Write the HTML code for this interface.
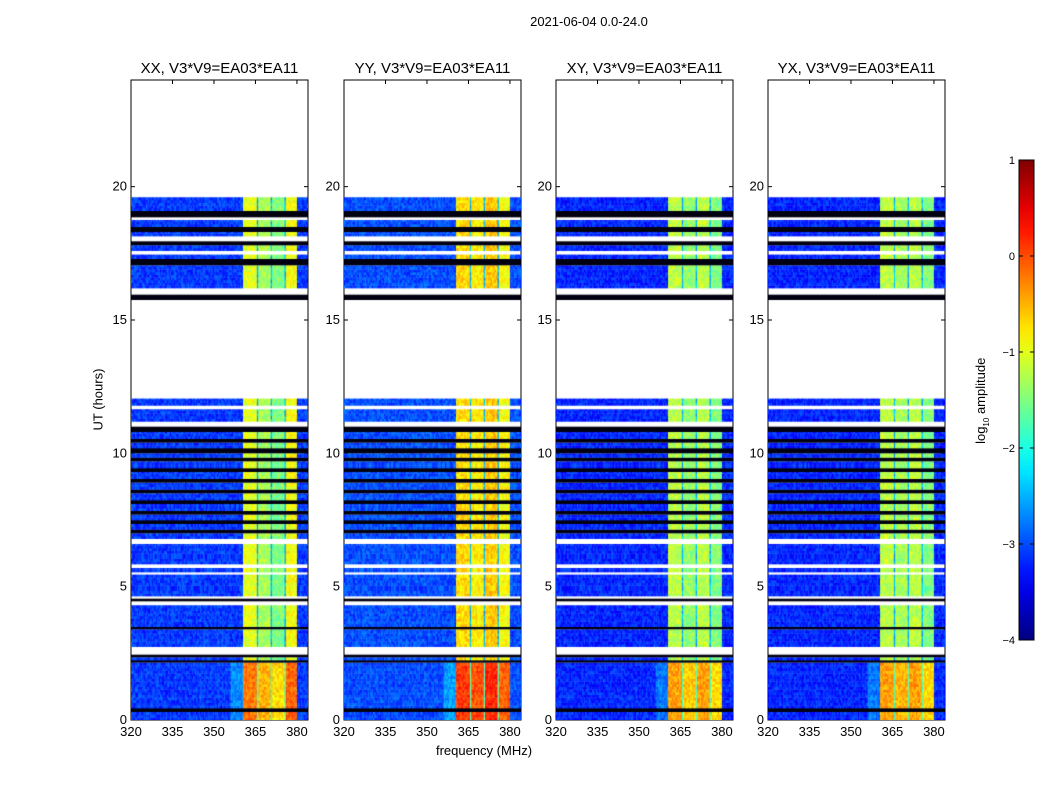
<!DOCTYPE html>
<html><head><meta charset="utf-8">
<style>
body{margin:0;background:#fff;font-family:"Liberation Sans",sans-serif;}
#root{position:relative;width:1050px;height:800px;overflow:hidden;background:#fff;}
.t{position:absolute;white-space:nowrap;color:#000;}
canvas{position:absolute;}
</style></head><body>
<div id="root">
<div class="t" style="left:489px;top:14px;width:200px;text-align:center;font-size:13px;">2021-06-04 0.0-24.0</div>
<div class="t" style="left:48px;top:392px;width:100px;text-align:center;font-size:13px;transform:rotate(-90deg);">UT (hours)</div>
<div class="t" style="left:384px;top:743px;width:200px;text-align:center;font-size:13px;">frequency (MHz)</div>
<div class="t" style="left:922px;top:392px;width:120px;text-align:center;font-size:13px;transform:rotate(-90deg);">log<sub style="font-size:8px">10</sub> amplitude</div>
<svg id="svg" width="1050" height="800" style="position:absolute;left:0;top:0;"></svg>
</div>
<script>
// ---- data ----
const panelTitles = ["XX, V3*V9=EA03*EA11","YY, V3*V9=EA03*EA11","XY, V3*V9=EA03*EA11","YX, V3*V9=EA03*EA11"];
const xTicks = [320,335,350,365,380];
const yTicks = [0,5,10,15,20];
const cbTicks = [-4,-3,-2,-1,0,1];
const bandStart = 360.5, bandEnd = 380;
const dipChannels = [365.5,370.5,375.5];
const subbandXX = [-1.0,-1.3,-1.5,-0.9];
const subbandYY = [-0.7,-0.8,-0.6,-0.9];
const subbandXY = [-1.2,-1.4,-1.2,-1.5];
const subbandYX = [-1.2,-1.3,-1.2,-1.5];
const lowLevel = [-3.1,-3.0,-3.2,-3.2];
const segStart = [0.0,0.3,0.45,0.55,2.15,2.25,2.35,2.45,2.6,2.75,3.4,3.5,4.3,4.45,4.55,4.65,4.75,5.45,5.55,5.7,5.85,5.95,6.6,6.8,7.0,7.15,7.35,7.5,7.7,7.85,8.1,8.25,8.5,8.65,8.9,9.05,9.3,9.45,9.7,9.85,10.0,10.2,10.4,10.55,10.8,11.0,11.2,11.65,11.8,12.05,15.75,15.95,16.2,16.9,17.05,17.3,17.45,17.6,17.8,17.95,18.15,18.3,18.5,18.75,18.85,19.1,19.6];
const segEnd   = [0.3,0.45,0.55,2.15,2.25,2.35,2.45,2.6,2.75,3.4,3.5,4.3,4.45,4.55,4.65,4.75,5.45,5.55,5.7,5.85,5.95,6.6,6.8,7.0,7.15,7.35,7.5,7.7,7.85,8.1,8.25,8.5,8.65,8.9,9.05,9.3,9.45,9.7,9.85,10.0,10.2,10.4,10.55,10.8,11.0,11.2,11.65,11.8,12.05,15.75,15.95,16.2,16.9,17.05,17.3,17.45,17.6,17.8,17.95,18.15,18.3,18.5,18.75,18.85,19.1,19.6,24.0];
const segType  = ["h","k","h","h","k","n","k","w","w","n","k","n","w","k","w","n","n","w","n","w","n","n","w","n","k","n","k","n","k","n","k","n","k","n","k","n","k","n","k","n","k","n","k","n","k","w","n","w","n","w","k","w","n","n","k","n","w","n","k","w","n","k","n","w","k","n","w"];

const panelX = [131,344,556,768], PW=177, PT=80, PH=640;
const xs = f => (f-320)/(384-320)*PW;
const ys = t => PH - t/24*PH;
function jet(v){
  const c=x=>Math.max(0,Math.min(1,x));
  const r=c(1.5-Math.abs(4*v-3)), g=c(1.5-Math.abs(4*v-2)), b=c(1.5-Math.abs(4*v-1));
  return `rgb(${r*255|0},${g*255|0},${b*255|0})`;
}
const norm = v => (v+4)/5;
function tex(i,j,p){let h=(i*374761393+j*668265263+p*2147483647)|0;h=(h^(h>>>13))*1274126177;h=h^(h>>>16);return ((h>>>0)%1000)/1000-0.5;}
const svg=document.getElementById('svg'), root=document.getElementById('root');
const NS='http://www.w3.org/2000/svg';
function mk(tag,attrs,parent){const e=document.createElementNS(NS,tag);for(const k in attrs)e.setAttribute(k,attrs[k]);(parent||svg).appendChild(e);return e;}
const subs=[subbandXX,subbandYY,subbandXY,subbandYX];
function bandVal(p,f){
  if(f<bandStart||f>=bandEnd) return null;
  if(dipChannels.some(d=>f>=d&&f<d+0.5)) return -2.5;
  const k=Math.min(3,Math.floor((f-bandStart)/((bandEnd-bandStart)/4)));
  return subs[p][k];
}
for(let p=0;p<4;p++){
  const cv=document.createElement('canvas');
  cv.width=PW;cv.height=PH;cv.style.left=panelX[p]+'px';cv.style.top=PT+'px';
  
  
  root.appendChild(cv);
  const ctx=cv.getContext('2d');
  const dt=0.1, df=0.5;
  for(let s=0;s<segStart.length;s++){
    const ty=segType[s];
    if(ty==='w') continue;
    const y0=ys(segEnd[s]), y1=ys(segStart[s]);
    if(ty==='k'){ctx.fillStyle='#000010';ctx.fillRect(0,y0,PW,y1-y0);continue;}
    for(let t=segStart[s];t<segEnd[s]-1e-6;t+=dt){
      const te=Math.min(t+dt,segEnd[s]);
      const ry0=ys(te), ry1=ys(t);
      for(let f=320;f<384;f+=df){
        let v=bandVal(p,f);
        if(v===null) v=lowLevel[p]+(f>=356&&f<360.5&&ty==='h'?0.4:0);
        else if(ty==='h') v+=0.8;
        v+=tex(Math.round(t*10),Math.round(f*2),p)*0.5;
        ctx.fillStyle=jet(Math.max(0,Math.min(1,norm(v))));
        ctx.fillRect(xs(f),ry0,xs(f+df)-xs(f)+0.5,ry1-ry0+0.3);
      }
    }
  }
  const g=mk('g',{transform:`translate(${panelX[p]},${PT})`});
  
  
  mk('rect',{x:0,y:0,width:PW,height:PH,fill:'none',stroke:'#000','stroke-width':1},g);
  const tt=mk('text',{x:PW/2,y:-7,'text-anchor':'middle','font-size':15,'font-family':'Liberation Sans'},g);
  tt.textContent=panelTitles[p];
  
  
  xTicks.forEach(v=>{const x=xs(v);
    mk('line',{x1:x,x2:x,y1:PH,y2:PH-4,stroke:'#000'},g);mk('line',{x1:x,x2:x,y1:0,y2:4,stroke:'#000'},g);
    const l=mk('text',{x:x,y:PH+16,'text-anchor':'middle','font-size':13,'font-family':'Liberation Sans'},g);l.textContent=v;
    
    });
  yTicks.forEach(v=>{const y=ys(v);
    mk('line',{x1:0,x2:4,y1:y,y2:y,stroke:'#000'},g);mk('line',{x1:PW,x2:PW-4,y1:y,y2:y,stroke:'#000'},g);
    const l=mk('text',{x:-4,y:y+4,'text-anchor':'end','font-size':13,'font-family':'Liberation Sans'},g);l.textContent=v;
    
    });
}
const CBX=1019,CBY=160,CBW=15,CBH=480;
const defs=mk('defs',{});
const lg=mk('linearGradient',{id:'jetg',x1:0,y1:1,x2:0,y2:0},defs);
for(let i=0;i<=20;i++)mk('stop',{offset:i/20,'stop-color':jet(i/20)},lg);
const cb=mk('rect',{x:CBX,y:CBY,width:CBW,height:CBH,fill:'url(#jetg)',stroke:'#000'});


cbTicks.forEach(v=>{const y=CBY+CBH-norm(v)*CBH;
  mk('line',{x1:CBX,x2:CBX+4,y1:y,y2:y,stroke:'#000'});mk('line',{x1:CBX+CBW,x2:CBX+CBW-4,y1:y,y2:y,stroke:'#000'});
  const l=mk('text',{x:CBX-4,y:y+4,'text-anchor':'end','font-size':11,'font-family':'Liberation Sans'});
  l.textContent=v<0?'\u2212'+(-v):v;
  
  });
</script>
</body></html>
